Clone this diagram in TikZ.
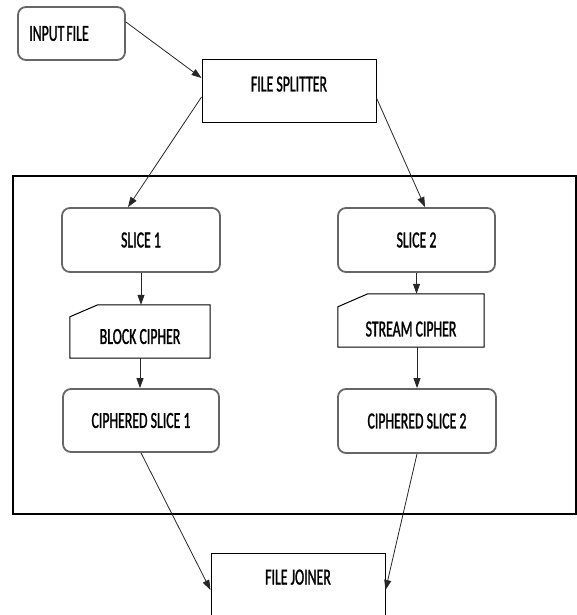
\documentclass[tikz,border=0pt]{standalone}
\usepackage{fontspec}
\usepackage{tikz}
\usetikzlibrary{arrows.meta, positioning}
\newfontfamily\boxfont[FakeStretch=0.6, FakeBold=1.2]{Carlito}

\tikzset{
  every node/.style={font=\boxfont\fontsize{23}{26}\selectfont, inner sep=0pt},
  roundbox/.style={draw=black!60, line width=1.8pt, rounded corners=8pt},
  plainbox/.style={draw=black, line width=1pt},
  link/.style={-{Triangle[length=10pt,width=7pt]}, line width=0.8pt, draw=black!85},
}

\begin{document}
\begin{tikzpicture}[x=1pt, y=-1pt]
    \useasboundingbox (0,0) rectangle (577,615);
    % outer frame
    \draw[line width=1.2pt] (13,176) rectangle (576,514);

    \node[roundbox, minimum width=107pt, minimum height=53pt] (input) at (71.5,33.5)
        {INPUT\kern2pt FILE\hspace*{25pt}};
    \node[plainbox, minimum width=174pt, minimum height=62pt,
          text height=15pt, text depth=14pt] (splitter) at (289,91) {FILE SPLITTER};

    \node[roundbox, minimum width=158pt, minimum height=64pt] (slice1) at (141,240) {SLICE 1};
    \node[roundbox, minimum width=157pt, minimum height=64pt] (slice2) at (416.5,240) {SLICE 2};

    \node[minimum width=140pt, minimum height=53pt, text height=25pt] (block) at (140,331.5) {BLOCK CIPHER};
    \node[minimum width=146pt, minimum height=53pt, text height=32pt] (stream) at (411,320.5) {STREAM CIPHER};
    % manual input outlines
    \draw[plainbox] (block.south west) -- (block.south east) -- (block.north east)
        -- ([xshift=28pt]block.north west) -- ([yshift=-12pt]block.north west) -- cycle;
    \draw[plainbox] (stream.south west) -- (stream.south east) -- (stream.north east)
        -- ([xshift=30pt]stream.north west) -- ([yshift=-13pt]stream.north west) -- cycle;

    \node[roundbox, minimum width=156pt, minimum height=63pt] (cs1) at (141,420.5) {CIPHERED SLICE 1};
    \node[roundbox, minimum width=158pt, minimum height=64pt] (cs2) at (417,421) {CIPHERED SLICE 2};

    \node[plainbox, minimum width=174pt, minimum height=70pt,
          text height=15pt, text depth=22pt] (joiner) at (298,588) {FILE JOINER};

    \draw[link] ([yshift=11.5pt]input.east) -- ([yshift=13pt]splitter.west);
    \draw[link] ([yshift=-6pt]splitter.west) -- ([xshift=-13pt]slice1.north);
    \draw[link] ([yshift=-7pt]splitter.east) -- ([xshift=8.5pt]slice2.north);
    \draw[link] (slice1.south) -- (slice1.south |- block.north);
    \draw[link] (slice2.south) -- (slice2.south |- stream.north);
    \draw[link] (block.south) -- (block.south |- cs1.north);
    \draw[link] (cs2.north |- stream.south) -- (cs2.north);
    \draw[link] (cs1.south) -- ([yshift=-2pt]joiner.west);
    \draw[link] (cs2.south) -- ([yshift=-2pt]joiner.east);
\end{tikzpicture}
\end{document}
